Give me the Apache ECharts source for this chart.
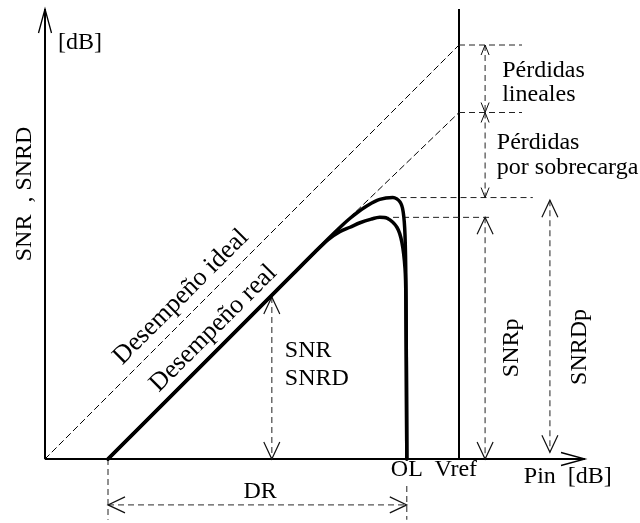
<!DOCTYPE html>
<html>
<head>
<meta charset="utf-8">
<script src="https://cdn.jsdelivr.net/npm/echarts@6/dist/echarts.min.js"></script>
<style>
  html, body { margin: 0; padding: 0; background: #fff; }
  #chart { width: 640px; height: 523px; }
</style>
</head>
<body>
<div id="chart"></div>
<script>
// Schematic SNR / SNRD versus input power (Pin), in arbitrary dB units.

// Ideal (noise-only) performance: straight line through the origin up to Vref.
const idealLine = [[0, 0], [92, 92]];
// Extension of the real straight-line behaviour up to Vref.
const realExtension = [[66, 52], [92, 77]];
// Real SNR curve: linear region, compression peak, collapse at OL.
const snrCurve = [
  [14, 0], [55, 41], [63, 49], [66, 51.9], [67.8, 53.5], [69.7, 55.0], [71.6, 56.3],
  [74.4, 57.7], [77.3, 58.1], [78.9, 57.1], [79.6, 54.9], [80.0, 49.8], [80.2, 38.7], [80.4, 0]
];
// Real SNRD curve (noise + distortion).
const snrdCurve = [
  [14, 0], [55, 41], [60, 46], [63, 48.8], [65.5, 50.5], [67.8, 51.5], [70, 52.5],
  [72.5, 53.3], [74.4, 53.7], [76.0, 53.5], [78.2, 51.5], [79.3, 48.2], [80.0, 42.4],
  [80.2, 35.3], [80.4, 0]
];

// Coordinate axes and the Vref limit line: [x1, y1, x2, y2]
const axisLines = [[0, 0, 0, 100], [0, 0, 120, 0]];
const vrefLine = [[92, 0, 92, 100]];

// Dashed reference lines: [x1, y1, x2, y2]
const guideLines = [
  [92, 92, 106, 92],
  [92, 77, 106, 77],
  [79, 58.1, 108.4, 58.1],
  [72.9, 53.7, 98.9, 53.7],
  [14, 0, 14, -13.5],
  [80.4, -6, 80.4, -13.5]
];
// Dimension arrows (large heads at both ends)
const dimensionArrows = [
  [50.4, 36, 50.4, 0],
  [97.8, 53.7, 97.8, 0],
  [112.2, 57.5, 112.2, 1.5],
  [14, -10.2, 80.4, -10.2]
];
// Loss arrows (small heads at both ends)
const lossArrows = [
  [97.8, 92, 97.8, 77],
  [97.8, 77, 97.8, 58.1]
];

// Text annotations: [x, y, text]
const leftNotes = [
  [2.9, 92.4, '[dB]'],
  [53.3, 24.0, 'SNR'],
  [53.3, 17.8, 'SNRD'],
  [101.6, 86.2, 'Pérdidas'],
  [101.6, 80.9, 'lineales'],
  [100.4, 70.2, 'Pérdidas'],
  [100.4, 64.7, 'por sobrecarga'],
  [106.4, -4.0, 'Pin\u00a0\u00a0[dB]']
];
const centerNotes = [
  [80.4, -2.4, 'OL'],
  [91.3, -2.4, 'Vref'],
  [47.8, -7.3, 'DR']
];
const verticalNotes = [
  [-4.4, 58.9, 'SNR\u00a0\u00a0, SNRD'],
  [103.8, 24.7, 'SNRp'],
  [118.9, 24.9, 'SNRDp']
];
const diagonalNotes = [
  [30.2, 36.0, 'Desempeño ideal'],
  [37.4, 29.0, 'Desempeño real']
];

const FONT_FAMILY = '"Liberation Serif", "Times New Roman", serif';

function arrowHead(tip, from, len, half, color, width) {
  const dx = tip[0] - from[0], dy = tip[1] - from[1];
  const d = Math.hypot(dx, dy) || 1;
  const ux = dx / d, uy = dy / d;
  const bx = tip[0] - ux * len, by = tip[1] - uy * len;
  return {
    type: 'polyline',
    shape: { points: [[bx - uy * half, by + ux * half], [tip[0], tip[1]], [bx + uy * half, by - ux * half]] },
    style: { stroke: color, lineWidth: width, fill: null }
  };
}

function segmentSeries(segs, opt) {
  return {
    type: 'custom',
    coordinateSystem: 'cartesian2d',
    data: segs,
    encode: { x: [0, 2], y: [1, 3] },
    silent: true,
    z: opt.z || 3,
    renderItem(params, api) {
      const a = api.coord([api.value(0), api.value(1)]);
      const b = api.coord([api.value(2), api.value(3)]);
      const children = [{
        type: 'line',
        shape: { x1: a[0], y1: a[1], x2: b[0], y2: b[1] },
        style: { stroke: opt.color, lineWidth: opt.width, lineDash: opt.dash || null }
      }];
      if (opt.head) {
        if (opt.both) children.push(arrowHead(a, b, opt.head[0], opt.head[1], opt.headColor, opt.headWidth));
        children.push(arrowHead(b, a, opt.head[0], opt.head[1], opt.headColor, opt.headWidth));
      }
      return { type: 'group', children };
    }
  };
}

function textSeries(notes, rotation, align, size) {
  return {
    type: 'custom',
    coordinateSystem: 'cartesian2d',
    data: notes.map(n => [n[0], n[1]]),
    silent: true,
    z: 5,
    renderItem(params, api) {
      const n = notes[params.dataIndex];
      const p = api.coord([n[0], n[1]]);
      return {
        type: 'text',
        x: p[0], y: p[1],
        rotation: rotation,
        style: {
          text: n[2],
          fontFamily: FONT_FAMILY,
          fontSize: size,
          fill: '#000',
          align: align,
          verticalAlign: 'middle'
        }
      };
    }
  };
}

function curveSeries(data, width, dash, smooth) {
  return {
    type: 'line',
    data: data,
    showSymbol: false,
    smooth: smooth,
    silent: true,
    z: 4,
    lineStyle: { color: '#000', width: width, type: dash || 'solid', cap: 'round', join: 'round' }
  };
}

const chart = echarts.init(document.getElementById('chart'), null, { renderer: 'canvas' });
chart.setOption({
  animation: false,
  backgroundColor: '#fff',
  grid: { left: 0, top: 9, width: 639, height: 513 },
  xAxis: { type: 'value', min: -10, max: 132, show: false },
  yAxis: { type: 'value', min: -14, max: 100, show: false },
  series: [
    curveSeries(idealLine, 1, [6, 4], false),
    curveSeries(realExtension, 1, [6, 4], false),
    curveSeries(snrCurve, 3.5, null, 0.3),
    curveSeries(snrdCurve, 3.5, null, 0.3),
    segmentSeries(axisLines, { color: '#000', width: 2, head: [24, 6.5], headColor: '#000', headWidth: 1.3 }),
    segmentSeries(vrefLine, { color: '#000', width: 2 }),
    segmentSeries(guideLines, { color: '#222', width: 1, dash: [6, 4] }),
    segmentSeries(dimensionArrows, { color: '#555', width: 1.3, dash: [6, 4], head: [17, 8], both: true, headColor: '#111', headWidth: 1.2 }),
    segmentSeries(lossArrows, { color: '#222', width: 1, dash: [6, 4], head: [10, 4], both: true, headColor: '#111', headWidth: 1 }),
    textSeries(leftNotes, 0, 'left', 24),
    textSeries(centerNotes, 0, 'center', 24),
    textSeries(verticalNotes, Math.PI / 2, 'center', 24),
    textSeries(diagonalNotes, Math.PI / 4, 'center', 26)
  ]
});
</script>
</body>
</html>
